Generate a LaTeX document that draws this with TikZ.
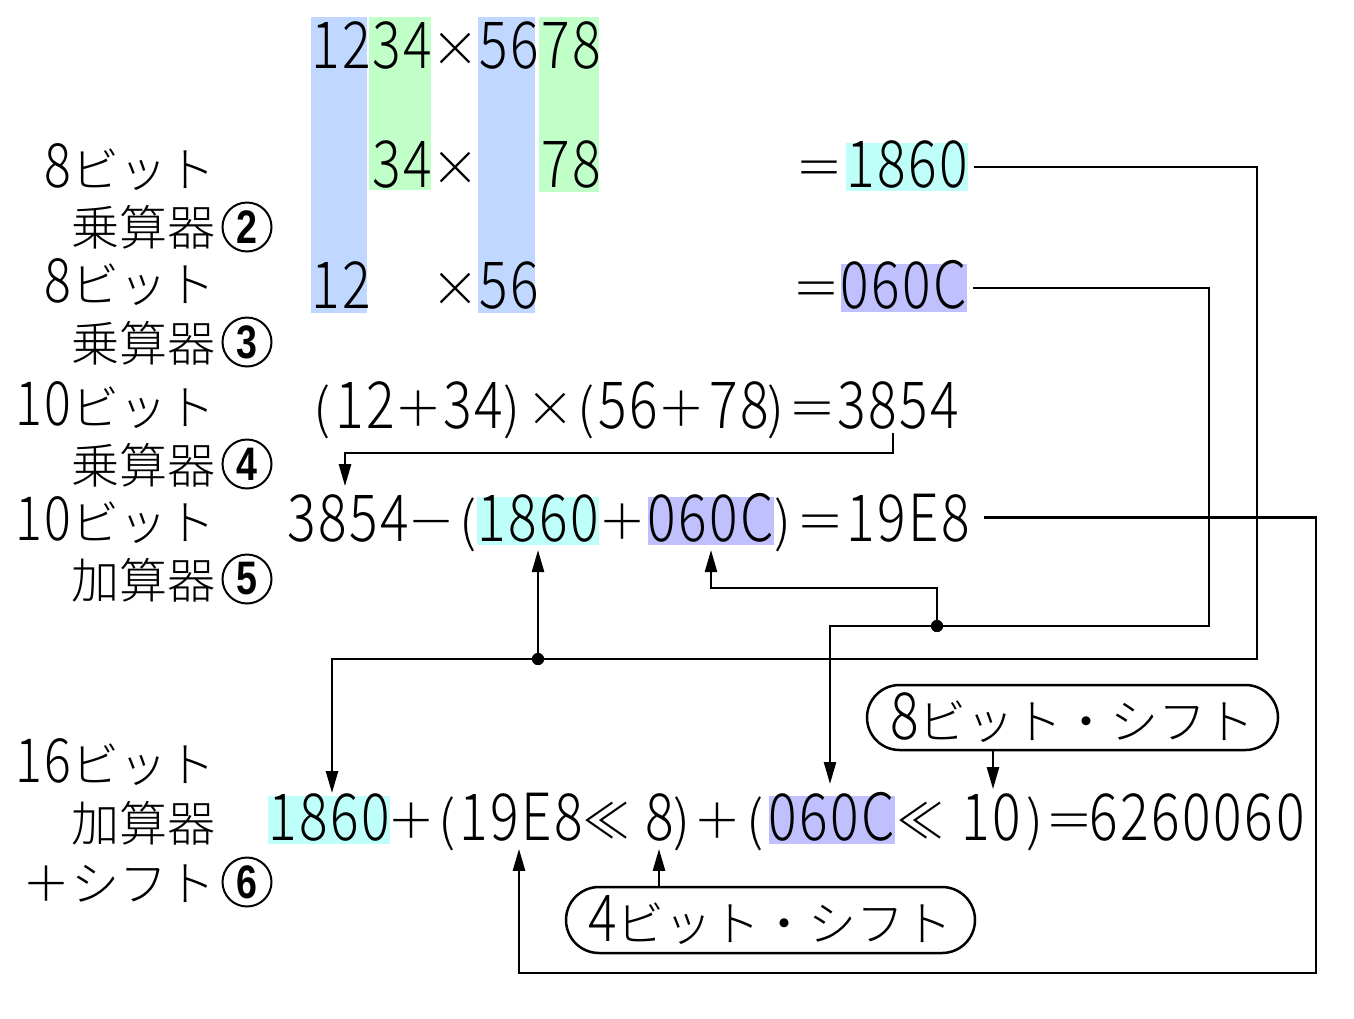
\documentclass[tikz,border=0pt]{standalone}
\usepackage{fontspec}
\usetikzlibrary{arrows.meta,shapes.misc,calc}
\IfFontExistsTF{Noto Sans CJK JP Light}{%
  \setmainfont{Noto Sans CJK JP Light}%
  \newfontfamily\dgf[FakeStretch=0.82,LetterSpace=4]{Noto Sans CJK JP Light}%
}{%
  \setmainfont{Noto Sans CJK JP}%
  \newfontfamily\dgf[FakeStretch=0.82,LetterSpace=4]{Noto Sans CJK JP}%
}
\newfontfamily\cnf[FakeStretch=0.8]{Liberation Sans}
\newcommand\J{\fontsize{48}{48}\selectfont}
\newcommand\Dg[1]{{\dgf\fontsize{65}{65}\selectfont #1}}
\newcommand\Dl[1]{{\dgf\fontsize{61}{61}\selectfont #1}}
\newcommand\Pn[1]{{\fontsize{54}{54}\selectfont #1}}
\newcommand\CN{\cnf\bfseries\fontsize{47}{47}\selectfont}
\definecolor{cblue}{RGB}{192,215,255}
\definecolor{cgreen}{RGB}{192,255,200}
\definecolor{ccyan}{RGB}{190,255,250}
\definecolor{cpurp}{RGB}{192,192,255}
\begin{document}
\begin{tikzpicture}[x=1pt,y=-1pt,
  every node/.style={inner sep=0pt,outer sep=0pt,font=\J},
  tk/.style={anchor=base},
  lab/.style={anchor=base east},
  hl/.style={anchor=base,text height=44pt,text depth=4pt,minimum width=#1},
  cnum/.style={circle,draw,line width=2pt,minimum size=49pt,font=\CN},
  conn/.style={line width=2.5pt,-{Triangle[length=22pt,width=12pt]}},
  pill/.style={draw,rounded rectangle,line width=2.5pt},
  dot/.style={circle,fill,minimum size=12pt}
]
\fill[white] (0,0) rectangle (1354,1018);
\useasboundingbox (0,0) rectangle (1354,1018);

% column highlights
\fill[cblue]  (311,17) rectangle (367,313);
\fill[cgreen] (369,17) rectangle (431,190);
\fill[cblue]  (478,17) rectangle (535,313);
\fill[cgreen] (539,17) rectangle (599,192);

% left labels
\node[lab] (l1) at (215,187) {\Dl{8}ビット};
\node[lab] (l2) at (215,245) {乗算器};
\node[cnum] (c2) at (247,227) {2};
\node[lab] (l3) at (215,302) {\Dl{8}ビット};
\node[lab] (l4) at (215,361) {乗算器};
\node[cnum] (c3) at (247,342) {3};
\node[lab] (l5) at (215,425) {\Dl{10}ビット};
\node[lab] (l6) at (215,483) {乗算器};
\node[cnum] (c4) at (247,464) {4};
\node[lab] (l7) at (215,540) {\Dl{10}ビット};
\node[lab] (l8) at (215,598) {加算器};
\node[cnum] (c5) at (247,579) {5};
\node[lab] (l9) at (215,782) {\Dl{16}ビット};
\node[lab] (l10) at (215,841) {加算器};
\node[lab] (l11) at (215,901) {＋シフト};
\node[cnum] (c6) at (247,882) {6};

% row 1
\node[tk] (r1a) at (341,68) {\Dg{12}};
\node[tk] (r1b) at (402,68) {\Dg{34}};
\node[tk] (r1c) at (455,66) {×};
\node[tk] (r1d) at (509,68) {\Dg{56}};
\node[tk] (r1e) at (571,68) {\Dg{78}};
% row 2
\node[tk] (r2b) at (402,187) {\Dg{34}};
\node[tk] (r2c) at (455,185) {×};
\node[tk] (r2e) at (571,187) {\Dg{78}};
\node[tk] (r2q) at (819,185) {＝};
\node[hl=118pt,fill=ccyan] (r2h) at (907,187) {\Dg{1860}};
% row 3
\node[tk] (r3a) at (341,308) {\Dg{12}};
\node[tk] (r3c) at (455,306) {×};
\node[tk] (r3d) at (509,308) {\Dg{56}};
\node[tk] (r3q) at (816,306) {＝};
\node[hl=126pt,fill=cpurp] (r3h) at (904,308) {\Dg{060C}};
% row 4
\node[tk] (r4p1) at (322,428) {\Pn{(}};
\node[tk] (r4a) at (365,428) {\Dg{12}};
\node[tk] (r4o1) at (418,426) {＋};
\node[tk] (r4b) at (473,428) {\Dg{34}};
\node[tk] (r4p2) at (512,428) {\Pn{)}};
\node[tk] (r4x) at (550,426) {×};
\node[tk] (r4p3) at (586,428) {\Pn{(}};
\node[tk] (r4c) at (628,428) {\Dg{56}};
\node[tk] (r4o2) at (681,426) {＋};
\node[tk] (r4d) at (739,428) {\Dg{78}};
\node[tk] (r4p4) at (776,428) {\Pn{)}};
\node[tk] (r4q) at (812,426) {＝};
\node[tk] (r4r) at (898,428) {\Dg{3854}};
% row 5
\node[tk] (r5a) at (348,541) {\Dg{3854}};
\node[tk] (r5m) at (431,539) {－};
\node[tk] (r5p1) at (468,541) {\Pn{(}};
\node[hl=118pt,fill=ccyan] (r5h1) at (538,541) {\Dg{1860}};
\node[tk] (r5o) at (622,539) {＋};
\node[hl=126pt,fill=cpurp] (r5h2) at (711,541) {\Dg{060C}};
\node[tk] (r5p2) at (783,541) {\Pn{)}};
\node[tk] (r5q) at (820,539) {＝};
\node[tk] (r5r) at (908,541) {\Dg{19E8}};
% row 6
\node[hl=118pt,fill=ccyan] (r6h1) at (329,840) {\Dg{1860}};
\node[tk] (r6o1) at (411,838) {＋};
\node[tk] (r6p1) at (447,840) {\Pn{(}};
\node[tk] (r6e) at (521,840) {\Dg{19E8}};
\node[tk] (r6l1) at (606,838) {≪};
\node[tk] (r6s) at (660,840) {\Dg{8}};
\node[tk] (r6p2) at (682,840) {\Pn{)}};
\node[tk] (r6o2) at (717,838) {＋};
\node[tk] (r6p3) at (755,840) {\Pn{(}};
\node[hl=124pt,fill=cpurp] (r6h2) at (832,840) {\Dg{060C}};
\node[tk] (r6l2) at (920,838) {≪};
\node[tk] (r6t) at (991,840) {\Dg{10}};
\node[tk] (r6p4) at (1035,840) {\Pn{)}};
\node[tk] (r6q) at (1069,838) {＝};
\node[tk] (r6r) at (1197,840) {\Dg{6260060}};

% pills
\node[pill,minimum width=411pt,minimum height=65pt] (p8) at (1072.5,717.5) {\Dg{8}ビット・シフト};
\node[pill,minimum width=409pt,minimum height=66pt] (p4) at (770.5,920) {\Dg{4}ビット・シフト};

% junctions
\coordinate (kA) at (893,453);
\node[dot] (jB) at (538,659) {};
\node[dot] (jC) at (937,626) {};

% connectors
\draw[conn] ([xshift=-5pt,yshift=-4pt]r4r.south) -- (kA) -| ([xshift=-3pt,yshift=8pt]r5a.north);
\draw[conn] ([xshift=6pt]r2h.east) -| (1257,659) -| ([xshift=3pt,yshift=3pt]r6h1.north);
\draw[conn] (jB) -- ([yshift=-5pt]r5h1.south);
\draw[conn] ([xshift=6pt]r3h.east) -| (1209,626) -| ([xshift=-2pt,yshift=12pt]r6h2.north);
\draw[conn] (jC) -- (937,588) -| ([yshift=-5pt]r5h2.south);
\draw[conn] ([xshift=14pt]r5r.east) -| (1316,973) -| ([xshift=-2pt,yshift=-8pt]r6e.south);
\draw[conn] ([xshift=2pt]p8.south -| r6t.north) -- ([xshift=2pt,yshift=4pt]r6t.north);
\draw[conn] ([xshift=-1pt]p4.north -| r6s.south) -- ([xshift=-1pt,yshift=-8pt]r6s.south);
\fill (jB) circle (6pt);
\fill (jC) circle (6pt);
\end{tikzpicture}
\end{document}
